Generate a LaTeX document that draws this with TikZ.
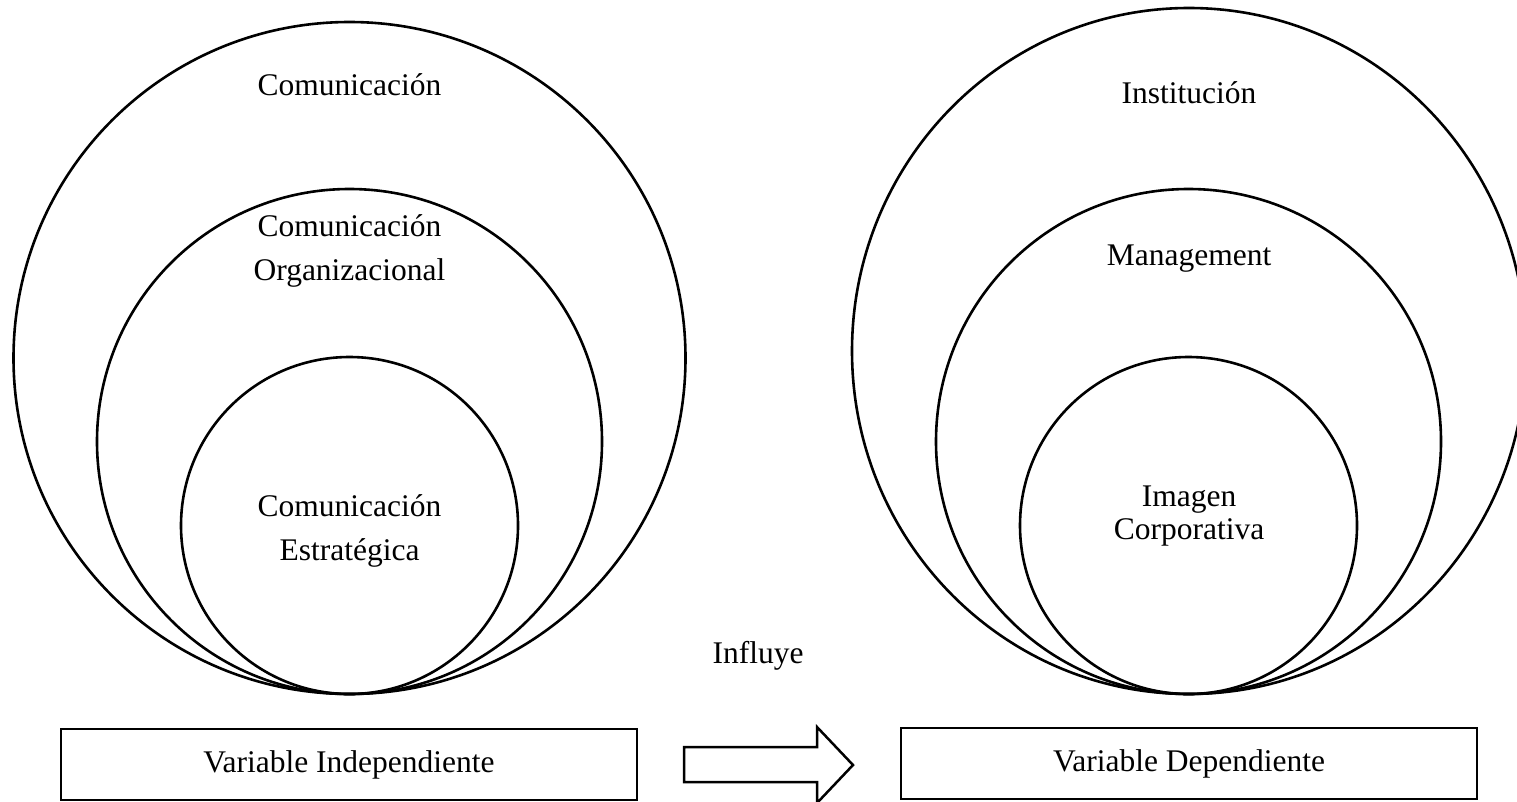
\documentclass[tikz,border=0pt]{standalone}
\usepackage{fontspec}
\setmainfont{Liberation Serif}
\begin{document}
\begin{tikzpicture}[x=1pt,y=-1pt,
  ring/.style={draw=black,line width=2.6pt},
  lbl/.style={anchor=base,align=center,inner sep=0pt,font=\fontsize{31.5}{44}\selectfont},
  tightlbl/.style={lbl,font=\fontsize{31.5}{33}\selectfont},
  varbox/.style={draw=black,line width=2pt,minimum width=576pt,minimum height=71pt,inner sep=0pt,font=\fontsize{31.5}{38}\selectfont},
  blockarrow/.style={draw=black,line width=2.5pt,line join=miter,fill=white}]
\useasboundingbox (0,0) rectangle (1517,801);
% left circles
\draw[ring] (349.5,358) circle[radius=336pt];
\draw[ring] (349.5,441.5) circle[radius=252.5pt];
\draw[ring] (349.5,525.5) circle[radius=168.5pt];
% right circles
\draw[ring] (1189,351) ellipse[x radius=337pt,y radius=343pt];
\draw[ring] (1188.5,441.5) circle[radius=252.5pt];
\draw[ring] (1188.5,525.5) circle[radius=168.5pt];
% labels (base = baseline of the last line)
\node[lbl] (com) at (349.5,95) {Comunicación};
\node[lbl] (org) at (349.5,280) {Comunicación\\Organizacional};
\node[lbl] (est) at (349.5,560) {Comunicación\\Estratégica};
\node[lbl] (ins) at (1189,103) {Institución};
\node[lbl] (man) at (1189,265) {Management};
\node[tightlbl] (ima) at (1189,539) {Imagen\\Corporativa};
\node[lbl] (inf) at (758,663) {Influye};
% boxes
\node[varbox] (vi) at (349,764.5) {Variable Independiente};
\node[varbox] (vd) at (1189,763.5) {Variable Dependiente};
% block arrow
\coordinate (a1) at (684,747);
\coordinate (a2) at (817,747);
\coordinate (a3) at (817,727);
\coordinate (a4) at (853,765);
\coordinate (a5) at (817,803);
\coordinate (a6) at (817,782);
\coordinate (a7) at (684,782);
\draw[blockarrow] (a1) -- (a2) -- (a3) -- (a4) -- (a5) -- (a6) -- (a7) -- cycle;
\end{tikzpicture}
\end{document}
